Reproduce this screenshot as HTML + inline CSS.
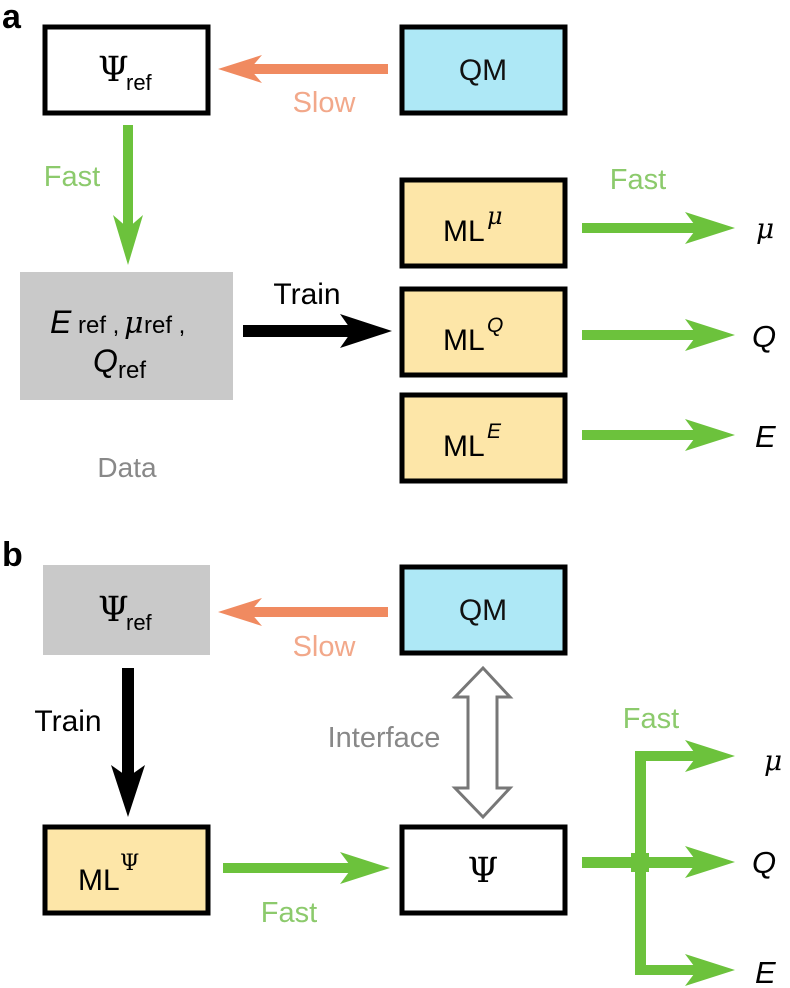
<!DOCTYPE html>
<html><head><meta charset="utf-8"><style>
html,body{margin:0;padding:0;background:#fff;}
svg{display:block;font-family:"Liberation Sans",sans-serif;}
</style></head><body>
<svg width="790" height="988" viewBox="0 0 790 988" xmlns="http://www.w3.org/2000/svg">
<!-- panel a -->
<text x="2" y="28" font-size="34" font-weight="bold">a</text>
<rect x="45" y="27" width="163" height="86" fill="#fff" stroke="#000" stroke-width="5"/>
<text x="98" y="81" font-size="35" font-family="DejaVu Serif">Ψ</text><text x="126" y="90" font-size="22">ref</text>
<rect x="402" y="27" width="163" height="86" fill="#aee8f6" stroke="#000" stroke-width="5"/>
<text x="483" y="80" font-size="30" text-anchor="middle" fill="#111">QM</text>
<rect x="250" y="64" width="138" height="10" fill="#f08a60"/>
<polygon points="218,69 262,55 250,69 262,83" fill="#f08a60"/>
<text x="324" y="112" font-size="29" text-anchor="middle" fill="#f2a88a">Slow</text>
<rect x="123" y="125" width="10" height="110" fill="#6cc23c"/>
<polygon points="128,265 113,215 128,228 143,215" fill="#6cc23c"/>
<text x="72" y="186" font-size="29" text-anchor="middle" fill="#8cca6c">Fast</text>
<rect x="20" y="272" width="213" height="128" fill="#c9c9c9"/>
<text x="50" y="333" font-size="32" font-style="italic">E</text><text x="78" y="333" font-size="24">ref ,</text>
<text x="124" y="333" font-size="30" font-style="italic" font-family="DejaVu Serif">μ</text><text x="144" y="333" font-size="24">ref ,</text>
<text x="93" y="372" font-size="32" font-style="italic">Q</text><text x="118" y="378" font-size="24">ref</text>
<text x="127" y="477" font-size="28" text-anchor="middle" fill="#888">Data</text>
<rect x="243" y="325" width="110" height="12" fill="#000"/>
<polygon points="392,331 340,314 352,331 340,348" fill="#000"/>
<text x="307" y="304" font-size="30" text-anchor="middle">Train</text>
<rect x="402" y="180" width="163" height="86" fill="#fde6a8" stroke="#000" stroke-width="5"/>
<text x="443" y="241" font-size="30">ML</text><text x="487" y="224" font-size="24" font-style="italic" font-family="DejaVu Serif">μ</text>
<rect x="402" y="289" width="163" height="86" fill="#fde6a8" stroke="#000" stroke-width="5"/>
<text x="443" y="350" font-size="30">ML</text><text x="487" y="332" font-size="21" font-style="italic">Q</text>
<rect x="402" y="395" width="163" height="86" fill="#fde6a8" stroke="#000" stroke-width="5"/>
<text x="443" y="456" font-size="30">ML</text><text x="487" y="438" font-size="21" font-style="italic">E</text>
<text x="638" y="189" font-size="29" text-anchor="middle" fill="#8cca6c">Fast</text>
<g fill="#6cc23c">
<rect x="582" y="223" width="125" height="10"/><polygon points="735,228 685,212 697,228 685,244"/>
<rect x="582" y="330" width="125" height="10"/><polygon points="735,335 685,319 697,335 685,351"/>
<rect x="582" y="430" width="125" height="10"/><polygon points="735,435 685,419 697,435 685,451"/>
</g>
<text x="756" y="238" font-size="28" font-style="italic" font-family="DejaVu Serif">μ</text>
<text x="752" y="347" font-size="31" font-style="italic">Q</text>
<text x="755" y="447" font-size="31" font-style="italic">E</text>
<!-- panel b -->
<text x="2" y="566" font-size="34" font-weight="bold">b</text>
<rect x="43" y="565" width="167" height="90" fill="#c9c9c9"/>
<text x="98" y="621" font-size="35" font-family="DejaVu Serif">Ψ</text><text x="126" y="630" font-size="22">ref</text>
<rect x="402" y="567" width="163" height="86" fill="#aee8f6" stroke="#000" stroke-width="5"/>
<text x="483" y="620" font-size="30" text-anchor="middle" fill="#111">QM</text>
<rect x="250" y="607" width="138" height="10" fill="#f08a60"/>
<polygon points="218,612 262,598 250,612 262,626" fill="#f08a60"/>
<text x="324" y="656" font-size="29" text-anchor="middle" fill="#f2a88a">Slow</text>
<rect x="122" y="668" width="12" height="110" fill="#000"/>
<polygon points="128,817 111,765 128,777 145,765" fill="#000"/>
<text x="68" y="731" font-size="30" text-anchor="middle">Train</text>
<rect x="45" y="827" width="163" height="86" fill="#fde6a8" stroke="#000" stroke-width="5"/>
<text x="78" y="890" font-size="30">ML</text><text x="120" y="870" font-size="22" font-family="DejaVu Serif">Ψ</text>
<rect x="402" y="827" width="163" height="86" fill="#fff" stroke="#000" stroke-width="5"/>
<text x="483" y="882" font-size="35" text-anchor="middle" font-family="DejaVu Serif">Ψ</text>
<rect x="223" y="863" width="137" height="10" fill="#6cc23c"/>
<polygon points="390,868 340,852 352,868 340,884" fill="#6cc23c"/>
<text x="289" y="922" font-size="29" text-anchor="middle" fill="#8cca6c">Fast</text>
<polygon points="483,668 510,697 497,697 497,788 510,788 483,817 455,788 468,788 468,697 455,697" fill="#fff" stroke="#777" stroke-width="3"/>
<text x="384" y="747" font-size="29" text-anchor="middle" fill="#888">Interface</text>
<g fill="#6cc23c">
<rect x="582" y="857" width="125" height="11"/><polygon points="735,862 685,846 697,862 685,878"/>
<rect x="635" y="751" width="11" height="224"/>
<rect x="635" y="751" width="72" height="10"/><polygon points="735,756 685,740 697,756 685,772"/>
<rect x="635" y="965" width="72" height="10"/><polygon points="735,970 685,954 697,970 685,986"/>
<rect x="631" y="853" width="18" height="19"/>
</g>
<text x="651" y="728" font-size="29" text-anchor="middle" fill="#8cca6c">Fast</text>
<text x="764" y="770" font-size="28" font-style="italic" font-family="DejaVu Serif">μ</text>
<text x="752" y="873" font-size="31" font-style="italic">Q</text>
<text x="755" y="983" font-size="31" font-style="italic">E</text>
</svg>
</body></html>
